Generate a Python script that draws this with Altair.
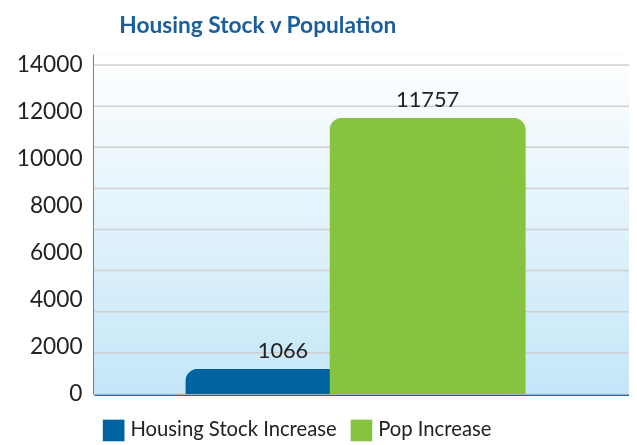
import altair as alt
import pandas as pd

series = ["Housing Stock Increase", "Pop Increase"]
values = [1066, 11757]
colors = ["#0063a1", "#86c440"]
y_labels = [0, 2000, 4000, 6000, 8000, 10000, 12000, 14000]
grid_values = [0, 1750, 3500, 5250, 7000, 8750, 10500, 12250, 14000]

df = pd.DataFrame({"series": series, "value": values})
grid_df = pd.DataFrame({"g": grid_values})

W, H = 542, 344
FONT = "Lato"

yscale = alt.Scale(domain=[0, 14460], nice=False)
yaxis = alt.Axis(values=y_labels, grid=False, ticks=False, labelFontSize=23,
                 labelColor="#222222", labelPadding=12, domainColor="#1a64a4",
                 domainWidth=2.5, title=None, labelFont=FONT, format="d")
xscale = alt.Scale(domain=series, paddingInner=0, paddingOuter=0.85, align=0.475)
xaxis = alt.Axis(labels=False, ticks=False, title=None, domainColor="#1a64a4",
                 domainWidth=3, grid=False)
cscale = alt.Scale(domain=series, range=colors)
legend = alt.Legend(orient="none", legendX=9, legendY=370, direction="horizontal",
                    title=None, labelFontSize=20.5, labelColor="#222222",
                    symbolType="square", symbolSize=480, symbolStrokeWidth=0,
                    labelLimit=400, columnPadding=13, labelOffset=6, labelFont=FONT)

bg = alt.Chart(alt.Data(values=[{"a": 1}])).mark_rect(
    fill=alt.Gradient(gradient="linear",
                      stops=[alt.GradientStop(color="#ffffff", offset=0),
                             alt.GradientStop(color="#c4e6f8", offset=1)],
                      x1=0, x2=0, y1=0, y2=1)
).encode(x=alt.value(0), x2=alt.value(W), y=alt.value(0), y2=alt.value(H))

grid = alt.Chart(grid_df).mark_rule(color="#cfcfcf", strokeWidth=1.5).encode(
    y=alt.Y("g:Q", scale=yscale, axis=yaxis),
    x=alt.value(0), x2=alt.value(W)
)

base = alt.Chart(df).encode(
    x=alt.X("series:N", scale=xscale, axis=xaxis, sort=series),
    y=alt.Y("value:Q", scale=yscale, axis=yaxis),
    color=alt.Color("series:N", scale=cscale, legend=legend, sort=series),
)

blue = base.transform_filter(alt.datum.series == series[0]).mark_bar(
    width=198, cornerRadiusTopLeft=13, cornerRadiusTopRight=13)
green = base.transform_filter(alt.datum.series == series[1]).mark_bar(
    width=199, cornerRadiusTopLeft=13, cornerRadiusTopRight=13, blend="multiply")

labels = base.mark_text(fontSize=22, dy=-11, baseline="alphabetic", color="#222222",
                        font=FONT).encode(text=alt.Text("value:Q", format="d"),
                                          color=alt.value("#222222"))

chart = alt.layer(bg, grid, blue, green, labels).properties(
    width=W, height=H,
    title=alt.TitleParams("Housing Stock v Population", fontSize=23, font=FONT,
                          fontWeight="bold", color="#1b5e9e", anchor="middle",
                          dx=-105, offset=17),
    autosize=alt.AutoSizeParams(type="none"),
    padding={"left": 87, "top": 44, "right": 0, "bottom": 60},
).configure_view(strokeWidth=0).configure(font=FONT)

chart.save("out.html", embed_options={"renderer": "svg", "actions": False})
